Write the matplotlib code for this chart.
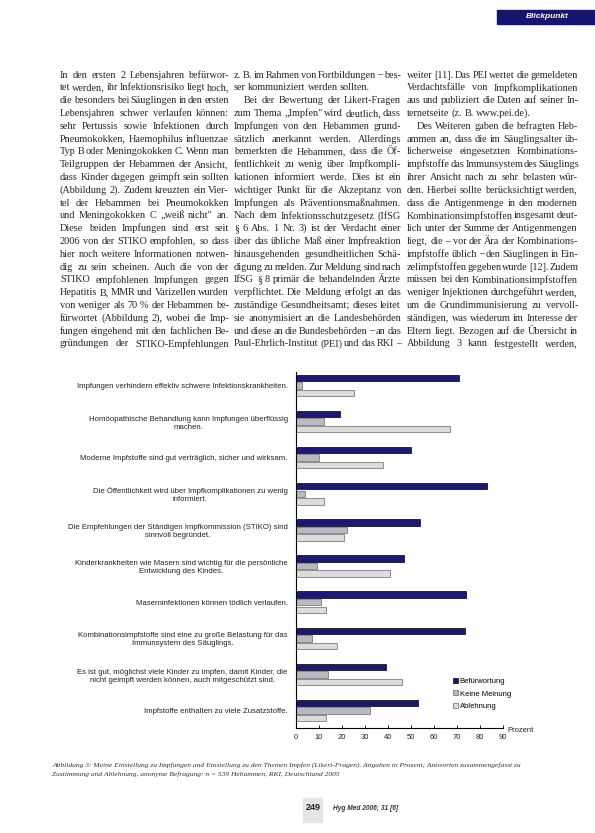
import matplotlib
matplotlib.use('Agg')
import matplotlib.pyplot as plt
from matplotlib.patches import Rectangle, Patch
import numpy as np

# Daten der Abbildung (Prozent)
aussagen = [
    'Impfungen verhindern effektiv schwere Infektionskrankheiten.',
    'Homöopathische Behandlung kann Impfungen überflüssig\nmachen.',
    'Moderne Impfstoffe sind gut verträglich, sicher und wirksam.',
    'Die Öffentlichkeit wird über Impfkomplikationen zu wenig\ninformiert.',
    'Die Empfehlungen der Ständigen Impfkommission (STIKO) sind\nsinnvoll begründet.',
    'Kinderkrankheiten wie Masern sind wichtig für die persönliche\nEntwicklung des Kindes.',
    'Maserninfektionen können tödlich verlaufen.',
    'Kombinationsimpfstoffe sind eine zu große Belastung für das\nImmunsystem des Säuglings.',
    'Es ist gut, möglichst viele Kinder zu impfen, damit Kinder, die\nnicht geimpft werden können, auch mitgeschützt sind.',
    'Impfstoffe enthalten zu viele Zusatzstoffe.',
]
befuerwortung = [71, 19, 50, 83, 54, 47, 74, 73.5, 39, 53]
keine_meinung = [2.5, 12, 10, 4, 22, 9, 11, 7, 14, 32]
ablehnung = [25, 67, 38, 12, 21, 41, 13, 18, 46, 13]
legende = ['Befürwortung', 'Keine Meinung', 'Ablehnung']
x_ticks = [0, 10, 20, 30, 40, 50, 60, 70, 80, 90]

spalte1 = [
    'In den ersten 2 Lebensjahren befürwor-',
    'tet werden, ihr Infektionsrisiko liegt hoch,',
    'die besonders bei Säuglingen in den ersten',
    'Lebensjahren schwer verlaufen können:',
    'sehr Pertussis sowie Infektionen durch',
    'Pneumokokken, Haemophilus influenzae',
    'Typ B oder Meningokokken C. Wenn man',
    'Teilgruppen der Hebammen der Ansicht,',
    'dass Kinder dagegen geimpft sein sollten',
    '(Abbildung 2). Zudem kreuzten ein Vier-',
    'tel der Hebammen bei Pneumokokken',
    'und Meningokokken C „weiß nicht" an.',
    'Diese beiden Impfungen sind erst seit',
    '2006 von der STIKO empfohlen, so dass',
    'hier noch weitere Informationen notwen-',
    'dig zu sein scheinen. Auch die von der',
    'STIKO empfohlenen Impfungen gegen',
    'Hepatitis B, MMR und Varizellen wurden',
    'von weniger als 70 % der Hebammen be-',
    'fürwortet (Abbildung 2), wobei die Imp-',
    'fungen eingehend mit den fachlichen Be-',
    'gründungen der STIKO-Empfehlungen',
]
spalte2 = [
    'z. B. im Rahmen von Fortbildungen – bes-',
    'ser kommuniziert werden sollten.¶',
    '  Bei der Bewertung der Likert-Fragen',
    'zum Thema „Impfen" wird deutlich, dass',
    'Impfungen von den Hebammen grund-',
    'sätzlich anerkannt werden. Allerdings',
    'bemerkten die Hebammen, dass die Öf-',
    'fentlichkeit zu wenig über Impfkompli-',
    'kationen informiert werde. Dies ist ein',
    'wichtiger Punkt für die Akzeptanz von',
    'Impfungen als Präventionsmaßnahmen.',
    'Nach dem Infektionsschutzgesetz (IfSG',
    '§ 6 Abs. 1 Nr. 3) ist der Verdacht einer',
    'über das übliche Maß einer Impfreaktion',
    'hinausgehenden gesundheitlichen Schä-',
    'digung zu melden. Zur Meldung sind nach',
    'IfSG § 8 primär die behandelnden Ärzte',
    'verpflichtet. Die Meldung erfolgt an das',
    'zuständige Gesundheitsamt; dieses leitet',
    'sie anonymisiert an die Landesbehörden',
    'und diese an die Bundesbehörden – an das',
    'Paul-Ehrlich-Institut (PEI) und das RKI –',
]
spalte3 = [
    'weiter [11]. Das PEI wertet die gemeldeten',
    'Verdachtsfälle von Impfkomplikationen',
    'aus und publiziert die Daten auf seiner In-',
    'ternetseite (z. B. www.pei.de).¶',
    '  Des Weiteren gaben die befragten Heb-',
    'ammen an, dass die im Säuglingsalter üb-',
    'licherweise eingesetzten Kombinations-',
    'impfstoffe das Immunsystem des Säuglings',
    'ihrer Ansicht nach zu sehr belasten wür-',
    'den. Hierbei sollte berücksichtigt werden,',
    'dass die Antigenmenge in den modernen',
    'Kombinationsimpfstoffen insgesamt deut-',
    'lich unter der Summe der Antigenmengen',
    'liegt, die – vor der Ära der Kombinations-',
    'impfstoffe üblich – den Säuglingen in Ein-',
    'zelimpfstoffen gegeben wurde [12]. Zudem',
    'müssen bei den Kombinationsimpfstoffen',
    'weniger Injektionen durchgeführt werden,',
    'um die Grundimmunisierung zu vervoll-',
    'ständigen, was wiederum im Interesse der',
    'Eltern liegt. Bezogen auf die Übersicht in',
    'Abbildung 3 kann festgestellt werden,',
]

W, H = 595, 833
fig = plt.figure(figsize=(W / 100, H / 100), dpi=100)
renderer = fig.canvas.get_renderer()


def fx(px):
    return px / W


def fy(py):
    return 1 - py / H


# Kopfbalken
fig.patches.append(Rectangle((fx(497), fy(24)), fx(98), 14 / H, color='#161670',
                             transform=fig.transFigure, figure=fig))
fig.text(fx(547), fy(17), 'Blickpunkt', color='white', fontsize=6, weight='bold',
         style='italic', ha='center', va='center', family='Liberation Sans')

# Fließtext im Blocksatz
FS = 7.4


def setze_spalte(zeilen, x0, x1, y0, dy):
    for i, z in enumerate(zeilen):
        y = fy(y0 + i * dy)
        einzug = z.startswith('  ')
        ende = z.endswith('¶')
        woerter = z.strip().rstrip('¶').split()
        start = x0 + (10 if einzug else 0)
        ts = [fig.text(0, y, w, fontsize=FS, family='Liberation Serif',
                       color='#262626', va='center') for w in woerter]
        breiten = [t.get_window_extent(renderer).width for t in ts]
        if ende or len(ts) < 2:
            luecke = 2.2
        else:
            luecke = (x1 - start - sum(breiten)) / (len(ts) - 1)
        luecke = max(luecke, 1.2)
        # zu lange Zeilen etwas enger setzen
        gesamt = sum(breiten) + luecke * (len(ts) - 1)
        faktor = min(1.0, (x1 - start) / gesamt) if not ende else 1.0
        x = start
        for t, b in zip(ts, breiten):
            t.set_x(fx(x))
            x += (b + luecke) * faktor


setze_spalte(spalte1, 60, 229, 75, 12.8)
setze_spalte(spalte2, 234, 401, 75, 12.8)
setze_spalte(spalte3, 407, 578, 75, 12.8)

# Balkendiagramm
ax = fig.add_axes([fx(296), fy(728), fx(503) - fx(296), 356 / H])
y = np.arange(len(aussagen))
h = 0.18
ax.barh(y - 0.21, befuerwortung, height=h, color='#1a1a72', edgecolor='black', lw=0.5)
ax.barh(y, keine_meinung, height=h, color='#b9b9c2', edgecolor='#6a6a6a', lw=0.5)
ax.barh(y + 0.21, ablehnung, height=h, color='#dcdcdc', edgecolor='#6a6a6a', lw=0.5)

ax.set_xlim(0, 90)
ax.set_ylim(9.48, -0.37)
ax.set_xticks(x_ticks)
ax.set_yticks(y)
ax.set_yticklabels(aussagen, multialignment='center', fontsize=5.6,
                   family='Liberation Sans', color='#222222')
ax.tick_params(axis='y', length=0, pad=6)
ax.tick_params(axis='x', direction='in', length=2.5, width=0.6, pad=4,
               labelsize=5.5, labelcolor='#222222')
for lab in ax.get_xticklabels():
    lab.set_family('Liberation Sans')
for s in ['top', 'right']:
    ax.spines[s].set_visible(False)
for s in ['left', 'bottom']:
    ax.spines[s].set_linewidth(0.8)
ax.set_facecolor('none')

fig.text(fx(507), fy(730), 'Prozent', fontsize=5.5, va='center',
         family='Liberation Sans', color='#222222')

handles = [Patch(facecolor='#1a1a72', edgecolor='black', lw=0.5),
           Patch(facecolor='#b9b9c2', edgecolor='#6a6a6a', lw=0.5),
           Patch(facecolor='#dcdcdc', edgecolor='#6a6a6a', lw=0.5)]
leg = ax.legend(handles, legende, loc='upper left', bbox_to_anchor=(fx(453), fy(678)),
                bbox_transform=fig.transFigure, frameon=False, fontsize=5.5,
                handlelength=0.6, handleheight=0.6, handletextpad=0.3,
                labelspacing=0.7, borderpad=0, borderaxespad=0)
for t in leg.get_texts():
    t.set_family('Liberation Sans')

# Bildunterschrift
fig.text(fx(52), fy(765),
         'Abbildung 3: Meine Einstellung zu Impfungen und Einstellung zu den Themen Impfen (Likert-Fragen). '
         'Angaben in Prozent; Antworten zusammengefasst zu',
         fontsize=5.4, style='italic', family='Liberation Serif', va='center', color='#333333')
fig.text(fx(52), fy(774),
         'Zustimmung und Ablehnung, anonyme Befragung: n = 539 Hebammen, RKI, Deutschland 2005',
         fontsize=5.4, style='italic', family='Liberation Serif', va='center', color='#333333')

# Fußzeile
fig.patches.append(Rectangle((fx(303), fy(822)), fx(19), 24 / H, color='#e4e4e4',
                             transform=fig.transFigure, figure=fig))
fig.text(fx(313), fy(808), '249', fontsize=6.5, weight='bold', ha='center', va='center',
         family='Liberation Sans', color='#222222')
fig.text(fx(333), fy(808), 'Hyg Med 2006; 31 [6]', fontsize=4.8, weight='bold', style='italic',
         va='center', family='Liberation Sans', color='#333333')

fig.savefig('out.png', dpi=100)
